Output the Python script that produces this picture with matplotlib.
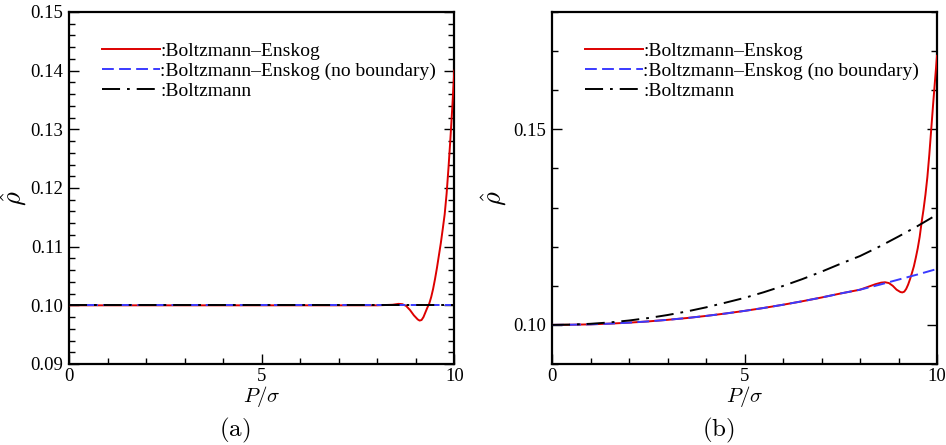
import numpy as np
import matplotlib
matplotlib.use("Agg")
import matplotlib.pyplot as plt
from matplotlib.ticker import MultipleLocator, FormatStrFormatter

plt.rcParams['font.family'] = ['Liberation Serif', 'DejaVu Serif']
plt.rcParams['mathtext.fontset'] = 'cm'
plt.rcParams['lines.scale_dashes'] = False

# ---------------- data ----------------
labels = [':Boltzmann\u2013Enskog', ':Boltzmann\u2013Enskog (no boundary)', ':Boltzmann']
panel_labels = ['(a)', '(b)']

# panel (a)
a_x_flat = [0, 10]
a_nb_y = [0.1, 0.1]
a_bz_y = [0.1, 0.1]
a_be_x = [0, 0.5, 1, 1.5, 2, 2.5, 3, 3.5, 4, 4.5, 5, 5.5, 6, 6.5, 7, 7.5, 8,
          8.2, 8.4, 8.55, 8.65, 8.75, 8.85, 8.95, 9.05, 9.1, 9.15, 9.2, 9.25, 9.3,
          9.35, 9.4, 9.45, 9.5, 9.55, 9.6, 9.65, 9.7, 9.75, 9.8, 9.85, 9.9, 9.95, 10]
a_be_y = [0.1] * 17 + [
          0.10005, 0.1001, 0.10025, 0.1002, 0.0999, 0.0992, 0.0983, 0.0976, 0.0974,
          0.0975, 0.0980, 0.0988, 0.0996, 0.1003, 0.1014, 0.1028, 0.1045, 0.1064,
          0.1085, 0.1106, 0.1130, 0.1155, 0.1190, 0.1235, 0.1285, 0.1340, 0.1400]

# panel (b)
b_x = [0, 0.5, 1, 1.5, 2, 2.5, 3, 3.5, 4, 4.5, 5, 5.5, 6, 6.5, 7, 7.5, 8,
       8.5, 9, 9.5, 10]
b_nb_y = [0.1000, 0.10004, 0.10014, 0.10032, 0.10057, 0.10089, 0.10129, 0.10175,
          0.10229, 0.1029, 0.10358, 0.10433, 0.10515, 0.10604, 0.1070, 0.10804,
          0.10900, 0.11025, 0.11158, 0.1129, 0.1143]
b_bz_y = [0.1000, 0.10007, 0.10028, 0.10063, 0.10112, 0.10175, 0.10252, 0.10343,
          0.10448, 0.10567, 0.1069, 0.10835, 0.10995, 0.1117, 0.1136, 0.11565,
          0.1176, 0.1200, 0.1226, 0.1253, 0.1282]
b_be_x = [0, 0.5, 1, 1.5, 2, 2.5, 3, 3.5, 4, 4.5, 5, 5.5, 6, 6.5, 7, 7.5, 8,
          8.2, 8.4, 8.55, 8.65, 8.75, 8.85, 8.95, 9.05, 9.1, 9.15, 9.2, 9.25, 9.3,
          9.35, 9.4, 9.45, 9.5, 9.55, 9.6, 9.65, 9.7, 9.75, 9.8, 9.85, 9.9, 9.95, 10]
b_be_y = [0.1000, 0.10004, 0.10014, 0.10032, 0.10057, 0.10089, 0.10129, 0.10175,
          0.10229, 0.1029, 0.10358, 0.10433, 0.10515, 0.10604, 0.1070, 0.10804,
          0.10900, 0.1097, 0.1104, 0.1108, 0.1109, 0.1107, 0.1100, 0.1090, 0.1084,
          0.1083, 0.1085, 0.1092, 0.1103, 0.1117, 0.1133, 0.1150, 0.1172, 0.1196,
          0.1225, 0.1262, 0.1295, 0.1333, 0.1378, 0.1435, 0.1500, 0.1565, 0.1627,
          0.1688]

red = '#dd0000'
blue = '#3a3aff'

fig = plt.figure(figsize=(9.46, 4.45), dpi=100)
axA = fig.add_axes([69/946, 1-364/445, 385.3/946, 352/445])
axB = fig.add_axes([552/946, 1-364/445, 385/946, 352/445])

dash_nb = (0, (8.5, 3.8))
dash_bz = (0, (13.0, 5.0, 2.0, 5.0))

def draw(ax, bex, bey, nbx, nby, bzx, bzy):
    l1, = ax.plot(bex, bey, color=red, lw=1.4, zorder=3)
    l2, = ax.plot(nbx, nby, color=blue, lw=1.4, linestyle=dash_nb, zorder=4)
    l3, = ax.plot(bzx, bzy, color='black', lw=1.4, linestyle=dash_bz, zorder=5)
    ax.legend([l1, l2, l3], labels, loc='upper left', bbox_to_anchor=(0.065, 0.935),
              frameon=False, fontsize=14, handlelength=3.0, handletextpad=0.0,
              labelspacing=0.12, borderaxespad=0)
    ax.set_xlim(0, 10)
    ax.xaxis.set_major_locator(MultipleLocator(5))
    ax.xaxis.set_minor_locator(MultipleLocator(1))
    ax.tick_params(which='both', direction='in', top=False, right=True,
                   labelsize=13.5, width=1.0)
    ax.tick_params(which='major', length=7)
    ax.tick_params(which='minor', length=4)
    ax.tick_params(axis='x', pad=3)
    ax.tick_params(axis='y', pad=4)
    for s in ax.spines.values():
        s.set_linewidth(1.6)
    ax.set_xlabel(r'$P/\sigma$', fontsize=15, labelpad=-1)
    ax.set_ylabel(r'$\hat{\rho}$', fontsize=19)

draw(axA, a_be_x, a_be_y, a_x_flat, a_nb_y, a_x_flat, a_bz_y)
axA.set_ylim(0.09, 0.15)
axA.yaxis.set_major_locator(MultipleLocator(0.01))
axA.yaxis.set_minor_locator(MultipleLocator(0.002))
axA.yaxis.set_major_formatter(FormatStrFormatter('%.2f'))
axA.yaxis.set_label_coords(-0.105, 0.47)

draw(axB, b_be_x, b_be_y, b_x, b_nb_y, b_x, b_bz_y)
axB.set_ylim(0.09, 0.18)
axB.yaxis.set_major_locator(MultipleLocator(0.05))
axB.yaxis.set_minor_locator(MultipleLocator(0.01))
axB.yaxis.set_major_formatter(FormatStrFormatter('%.2f'))
axB.yaxis.set_label_coords(-0.112, 0.47)

fig.text(235/946, 1-430/445, r'$\mathrm{' + panel_labels[0] + '}$', fontsize=18,
         ha='center', va='center')
fig.text(718/946, 1-430/445, r'$\mathrm{' + panel_labels[1] + '}$', fontsize=18,
         ha='center', va='center')

fig.savefig('out.png', dpi=100)
